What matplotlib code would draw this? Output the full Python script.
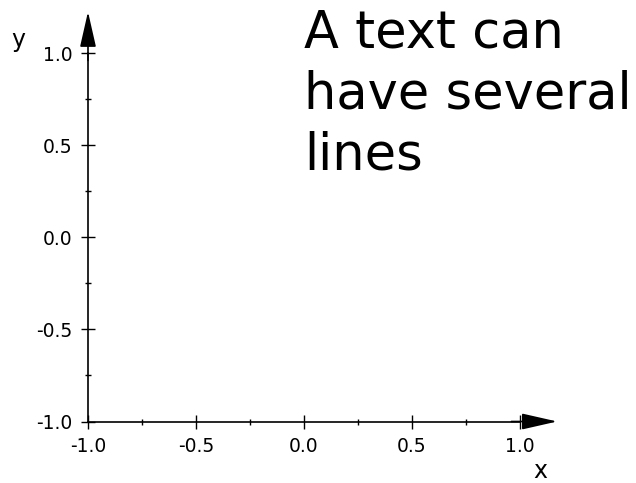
import matplotlib.pyplot as plt
from matplotlib.ticker import MultipleLocator
from matplotlib.transforms import blended_transform_factory

X_RANGE = [-1.0, 1.0]
Y_RANGE = [-1.0, 1.0]
MAJOR_STEP = 0.5
MINOR_STEP = 0.25
TEXT_X = 0.0
TEXT = "A text can\nhave several\nlines"

W, H = 636, 483
fig = plt.figure(figsize=(W / 100, H / 100), dpi=100)
# axes box in pixels: x 88..520, y 53..421.5
ax = fig.add_axes([88 / W, (H - 421.5) / H, 432 / W, 368.5 / H])
ax.set_xlim(*X_RANGE)
ax.set_ylim(*Y_RANGE)

for side in ("top", "right"):
    ax.spines[side].set_visible(False)
for side in ("left", "bottom"):
    ax.spines[side].set_linewidth(1.2)
    ax.spines[side].set_color("black")

ax.xaxis.set_major_locator(MultipleLocator(MAJOR_STEP))
ax.xaxis.set_minor_locator(MultipleLocator(MINOR_STEP))
ax.yaxis.set_major_locator(MultipleLocator(MAJOR_STEP))
ax.yaxis.set_minor_locator(MultipleLocator(MINOR_STEP))
ax.xaxis.set_major_formatter(lambda v, p: f"{v:.1f}")
ax.yaxis.set_major_formatter(lambda v, p: f"{v:.1f}")

ax.tick_params(which="major", direction="inout", length=10, width=1.0,
               labelsize=13.5, pad=6)
ax.tick_params(which="minor", direction="inout", length=4.3, width=1.0)

# arrow heads at the end of each axis
arrow_kw = dict(arrowstyle="-|>,head_length=2.2,head_width=0.5",
                mutation_scale=10, color="black", lw=1.2, shrinkA=0, shrinkB=0)
ax.annotate("", xy=(1.086, 0), xytext=(0.98, 0), xycoords="axes fraction",
            textcoords="axes fraction", arrowprops=arrow_kw, annotation_clip=False)
ax.annotate("", xy=(0, 1.112), xytext=(0, 0.98), xycoords="axes fraction",
            textcoords="axes fraction", arrowprops=arrow_kw, annotation_clip=False)

fig.text(540 / W, 5 / H, "x", fontsize=17, ha="center", va="baseline")
fig.text(18 / W, 1 - 47 / H, "y", fontsize=17, ha="center", va="baseline")

trans = blended_transform_factory(ax.transData, fig.transFigure)
ax.text(TEXT_X, 1 - 9 / H, TEXT, fontsize=36.7, ha="left", va="top",
        linespacing=1.27, transform=trans, clip_on=False)

fig.savefig("out.png", dpi=100)
